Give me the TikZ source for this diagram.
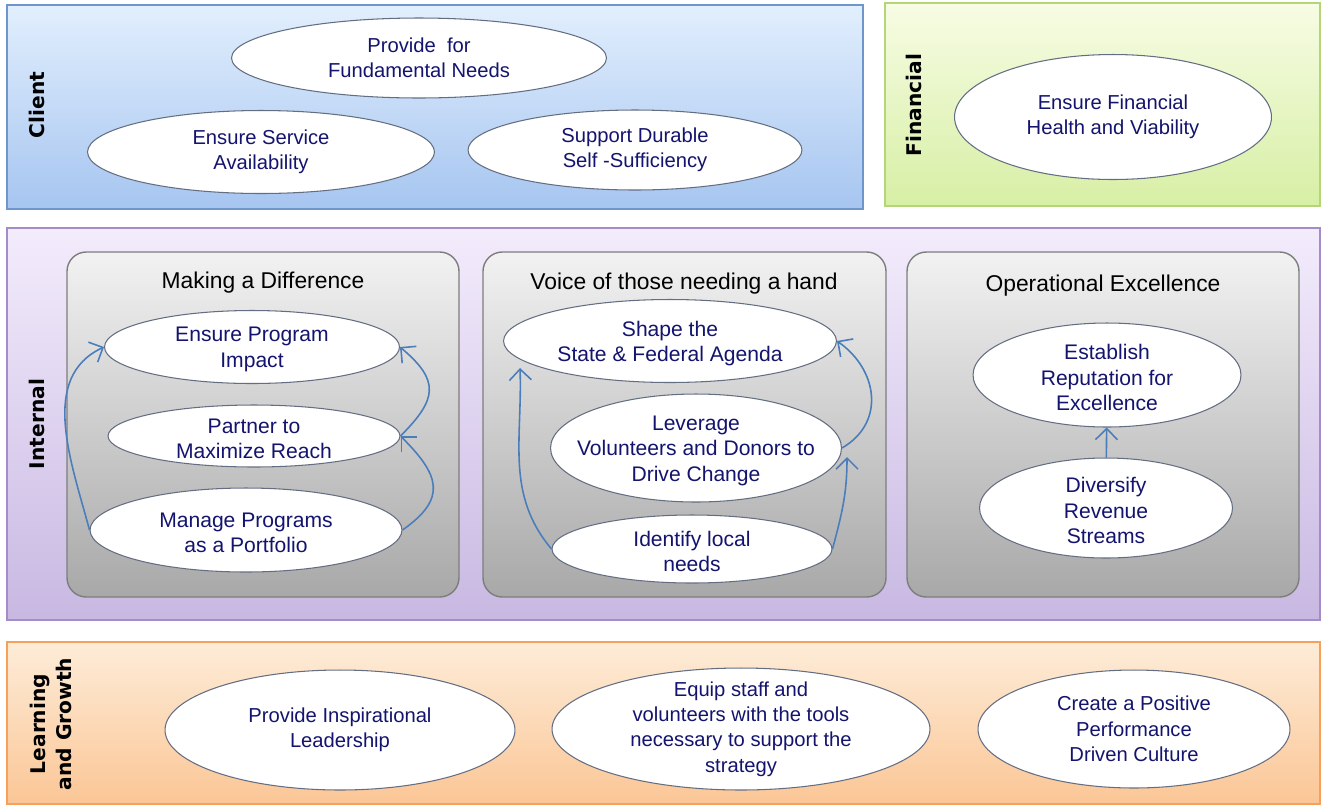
\documentclass[tikz,border=0pt]{standalone}
\usepackage{fontspec}
\setmainfont{Liberation Sans}
\newfontfamily\sidefont{DejaVu Sans}
\usetikzlibrary{arrows.meta}
\usetikzlibrary{shapes.geometric}

\definecolor{clienttop}{RGB}{226,239,253}
\definecolor{clientbot}{RGB}{166,197,240}
\definecolor{clientline}{RGB}{110,150,205}
\definecolor{fintop}{RGB}{247,252,228}
\definecolor{finbot}{RGB}{215,239,165}
\definecolor{finline}{RGB}{180,214,120}
\definecolor{inttop}{RGB}{243,236,252}
\definecolor{intbot}{RGB}{200,184,226}
\definecolor{intline}{RGB}{165,140,200}
\definecolor{learntop}{RGB}{253,236,216}
\definecolor{learnbot}{RGB}{251,198,150}
\definecolor{learnline}{RGB}{247,160,90}
\definecolor{paneltop}{RGB}{242,242,242}
\definecolor{panelbot}{RGB}{168,168,168}
\definecolor{panelline}{RGB}{125,125,125}
\definecolor{goalline}{RGB}{100,110,130}
\definecolor{goalblue}{RGB}{20,20,110}
\definecolor{linkblue}{RGB}{74,126,187}

\pgfdeclareradialshading{goalshade}{\pgfpoint{0bp}{0bp}}{color(0bp)=(white); color(36bp)=(white); color(50bp)=(black!38)}

\begin{document}
\begin{tikzpicture}[x = 0.02cm, y = -0.02cm, >={Straight Barb[length=2.2mm, width=4.4mm]}]
	\tikzstyle{goal} = [ellipse, draw = goalline, line width = 0.6pt, shading = goalshade, inner sep = 0pt]
	\tikzstyle{goaltext} = [text = goalblue, align = center, inner sep = 0pt, yshift = -1.5pt, font = \fontsize{12}{14.5}\selectfont]
	\tikzstyle{outertext} = [goaltext, yshift = 1.5pt, font = \fontsize{11.5}{14.5}\selectfont]
	\tikzstyle{panel} = [draw = panelline, line width = 0.8pt, rounded corners = 11pt, top color = paneltop, bottom color = panelbot]
	\tikzstyle{paneltitle} = [font = \fontsize{13}{15}\selectfont]
	\tikzstyle{side} = [rotate = 90, align = center, font = \sidefont\bfseries\fontsize{11.5}{15.3}\selectfont]
	\tikzstyle{link} = [->, draw = linkblue, line width = 0.9pt]
	\useasboundingbox (0,0) rectangle (1322,806);
	\draw[draw = clientline, line width = 1.2pt, top color = clienttop, bottom color = clientbot] (7,5) rectangle (863,209);
	\draw[draw = finline, line width = 1.2pt, top color = fintop, bottom color = finbot] (885,3) rectangle (1320,206);
	\draw[draw = intline, line width = 1.2pt, top color = inttop, bottom color = intbot] (7,228) rectangle (1320,620);
	\draw[draw = learnline, line width = 1.2pt, top color = learntop, bottom color = learnbot] (7,642) rectangle (1320,804);
	\draw[panel] (67,252) rectangle (459,597);
	\draw[panel] (483,252) rectangle (886,597);
	\draw[panel] (907,252) rectangle (1299,597);
	\node[side] (sclient) at (37,105) {Client};
	\node[side] (sfin) at (914,105) {Financial};
	\node[side] (sint) at (37,424) {Internal};
	\node[side] (slearn) at (51,724) {Learning\\and Growth};
	\node[paneltitle] (t1) at (263,283) {Making a Difference};
	\node[paneltitle] (t2) at (684,284) {Voice of those needing a hand};
	\node[paneltitle] (t3) at (1103,286) {Operational Excellence};
	\node[goal, minimum width = 7.50cm, minimum height = 1.60cm, label = {[outertext]center:{Provide~~for\\Fundamental Needs}}] (c1) at (419,58) {};
	\node[goal, minimum width = 6.94cm, minimum height = 1.66cm, label = {[outertext]center:{Ensure Service\\Availability}}] (c2) at (261,152) {};
	\node[goal, minimum width = 6.68cm, minimum height = 1.60cm, label = {[outertext]center:{Support Durable\\Self -Sufficiency}}] (c3) at (635,150) {};
	\node[goal, minimum width = 6.34cm, minimum height = 2.50cm, label = {[outertext]center:{Ensure Financial\\Health and Viability}}] (f1) at (1113,117) {};
	\node[goal, minimum width = 5.90cm, minimum height = 1.46cm, label = {[goaltext]center:{Ensure Program\\Impact}}] (m1) at (252,347) {};
	\node[goal, minimum width = 5.84cm, minimum height = 1.24cm, label = {[goaltext]center:{Partner to\\Maximize Reach}}] (m2) at (254,436) {};
	\node[goal, minimum width = 6.24cm, minimum height = 1.68cm, label = {[goaltext]center:{Manage Programs\\as a Portfolio}}] (m3) at (246,530) {};
	\node[goal, minimum width = 6.66cm, minimum height = 1.66cm, label = {[goaltext]center:{Shape the\\State \& Federal Agenda}}] (v1) at (670,341) {};
	\node[goal, minimum width = 5.82cm, minimum height = 2.16cm, label = {[goaltext]center:{Leverage\\Volunteers and Donors to\\Drive Change}}] (v2) at (696,448) {};
	\node[goal, minimum width = 5.60cm, minimum height = 1.36cm, label = {[goaltext]center:{Identify local\\needs}}] (v3) at (692,549) {};
	\node[goal, minimum width = 5.36cm, minimum height = 2.08cm, label = {[goaltext]center:{Establish\\Reputation for\\Excellence}}] (o1) at (1107,375) {};
	\node[goal, minimum width = 5.06cm, minimum height = 2.00cm, label = {[goaltext]center:{Diversify\\Revenue\\Streams}}] (o2) at (1106,508) {};
	\node[goal, minimum width = 7.00cm, minimum height = 2.40cm, label = {[outertext]center:{Provide Inspirational\\Leadership}}] (l1) at (340,730) {};
	\node[goal, minimum width = 7.56cm, minimum height = 2.44cm, label = {[outertext]center:{Equip staff and\\volunteers with the tools\\necessary to support the\\strategy}}] (l2) at (741,729) {};
	\node[goal, minimum width = 6.24cm, minimum height = 2.36cm, label = {[outertext]center:{Create a Positive\\Performance\\Driven Culture}}] (l3) at (1134,729) {};
	\coordinate (v1tip) at (520,368);
	\coordinate (v2tip) at (847,457);
	\draw[link] (m3.west) to[out = 105, in = 205] (m1.west);
	\draw[link] (m2.east) to[out = 45, in = -40, looseness = 1.5] (m1.east);
	\draw[link] (m3.east) to[out = 35, in = -45, looseness = 1.5] (m2.east);
	\draw[link] (v3.west) to[out = 130, in = -88] (v1tip);
	\draw[link] (v3.east) to[out = 75, in = -90] (v2tip);
	\draw[link] (v2.east) to[out = 30, in = -35, looseness = 1.2] (v1.east);
	\draw[link] (o2) -- (o1);
\end{tikzpicture}
\end{document}
